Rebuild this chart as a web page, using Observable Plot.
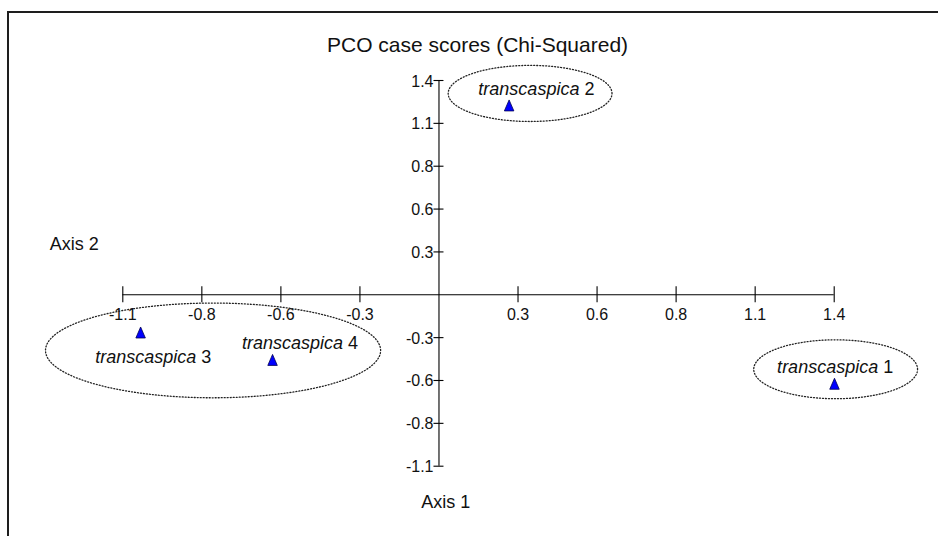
<!DOCTYPE html>
<html><head><meta charset="utf-8">
<script src="https://cdn.jsdelivr.net/npm/d3@7"></script>
<script src="https://cdn.jsdelivr.net/npm/@observablehq/plot@0.6"></script>
<style>
html,body{margin:0;padding:0;background:#fff;}
#wrap{position:relative;width:938px;height:536px;overflow:hidden;background:#fff;}
#border{position:absolute;left:7px;top:11px;width:1000px;height:1000px;border-top:2px solid #1e1e1e;border-left:2px solid #1e1e1e;pointer-events:none;}
</style></head><body>
<div id="wrap"><div id="border"></div></div>
<script>
// ---- data ----
const title = "PCO case scores (Chi-Squared)";
const xAxisLabel = "Axis 1";
const yAxisLabel = "Axis 2";
const caseNames = ["transcaspica", "transcaspica", "transcaspica", "transcaspica"];
const caseNumbers = ["1", "2", "3", "4"];
const axis1Scores = [1.376, 0.244, -1.038, -0.579];
const axis2Scores = [-0.571, 1.215, -0.242, -0.418];
const tickValues = [-1.1, -0.825, -0.55, -0.275, 0.275, 0.55, 0.825, 1.1, 1.375];
const tickLabels = ["-1.1", "-0.8", "-0.6", "-0.3", "0.3", "0.6", "0.8", "1.1", "1.4"];
// group ellipses (centre and radii in score units)
const groupCx = [1.380, 0.317, -0.786];
const groupCy = [-0.478, 1.292, -0.357];
const groupRx = [0.285, 0.285, 0.583];
const groupRy = [0.189, 0.180, 0.304];

// ---- layout ----
const labelDx = [43.7, 70.3, 55.7, 70.5];
const labelDy = [-10.6, -10, 30.5, -11.2];
const FONT = "'Liberation Sans', Arial, Helvetica, sans-serif";

const idx = caseNames.map((_, i) => i);
const domain = d3.extent(tickValues);

const ellipsePts = [];
groupCx.forEach((cx, g) => {
  const N = 160;
  for (let k = 0; k <= N; k++) {
    const a = (2 * Math.PI * k) / N;
    ellipsePts.push({g, x: cx + groupRx[g] * Math.cos(a), y: groupCy[g] + groupRy[g] * Math.sin(a)});
  }
});

const tri = {
  draw(ctx, size) {
    const r = Math.sqrt(size / Math.PI);
    ctx.moveTo(0, -1.1 * r);
    ctx.lineTo(0.95 * r, 1.1 * r);
    ctx.lineTo(-0.95 * r, 1.1 * r);
    ctx.closePath();
  }
};

const labelMarks = idx.flatMap(i => [
  Plot.text([i], {x: j => axis1Scores[j], y: j => axis2Scores[j], text: j => caseNames[j],
    textAnchor: "end", lineAnchor: "bottom", dx: labelDx[i], dy: labelDy[i],
    fontSize: 18, fontStyle: "italic", fill: "#111"}),
  Plot.text([i], {x: j => axis1Scores[j], y: j => axis2Scores[j], text: j => caseNumbers[j],
    textAnchor: "start", lineAnchor: "bottom", dx: labelDx[i] + 5, dy: labelDy[i],
    fontSize: 18, fill: "#111"})
]);

const chart = Plot.plot({
  width: 938,
  height: 536,
  marginLeft: 122.3,
  marginRight: 104.3,
  marginTop: 80,
  marginBottom: 70.3,
  style: {fontFamily: FONT, fontSize: "16px", background: "transparent", color: "#111"},
  x: {domain, axis: null},
  y: {domain, axis: null},
  marks: [
    // axes through the origin
    Plot.ruleY([0], {x1: domain[0], x2: domain[1], stroke: "#000", strokeWidth: 1.1}),
    Plot.ruleX([0], {y1: domain[0], y2: domain[1], stroke: "#000", strokeWidth: 1.1}),
    Plot.ruleX(tickValues, {x: d => d, y1: 0, y2: 0, insetTop: -8, insetBottom: -8, stroke: "#000", strokeWidth: 1.1}),
    Plot.ruleY(tickValues, {y: d => d, x1: 0, x2: 0, insetLeft: -5, insetRight: -5, stroke: "#000", strokeWidth: 1.1}),
    Plot.text(tickValues, {x: d => d, y: 0, text: (d, i) => tickLabels[i], textAnchor: "middle", lineAnchor: "bottom", dy: 25.7, fontSize: 16, fill: "#111"}),
    Plot.text(tickValues, {x: 0, y: d => d, text: (d, i) => tickLabels[i], textAnchor: "end", lineAnchor: "bottom", dx: -5.5, dy: 6, fontSize: 16, fill: "#111"}),
    // group ellipses
    Plot.line(ellipsePts, {x: "x", y: "y", z: "g", stroke: "#222", strokeWidth: 1.3, strokeDasharray: "1,2", curve: "linear"}),
    // case scores
    Plot.dot(idx, {x: i => axis1Scores[i], y: i => axis2Scores[i], r: 5, symbol: tri, fill: "#0000ff", stroke: "#000050", strokeWidth: 0.8}),
    ...labelMarks,
    // titles
    Plot.text([title], {text: d => d, frameAnchor: "top", lineAnchor: "bottom", dx: -1, dy: -29, fontSize: 21, fill: "#111"}),
    Plot.text([yAxisLabel], {text: d => d, frameAnchor: "left", textAnchor: "start", lineAnchor: "bottom", dx: -73, dy: -23.85, fontSize: 18, fill: "#111"}),
    Plot.text([xAxisLabel], {text: d => d, frameAnchor: "bottom", textAnchor: "start", lineAnchor: "bottom", dx: -57.3, dy: 41.6, fontSize: 18, fill: "#111"})
  ]
});
chart.style.position = "absolute";
chart.style.left = "0px";
chart.style.top = "0px";
document.getElementById("wrap").prepend(chart);
</script>
</body></html>
